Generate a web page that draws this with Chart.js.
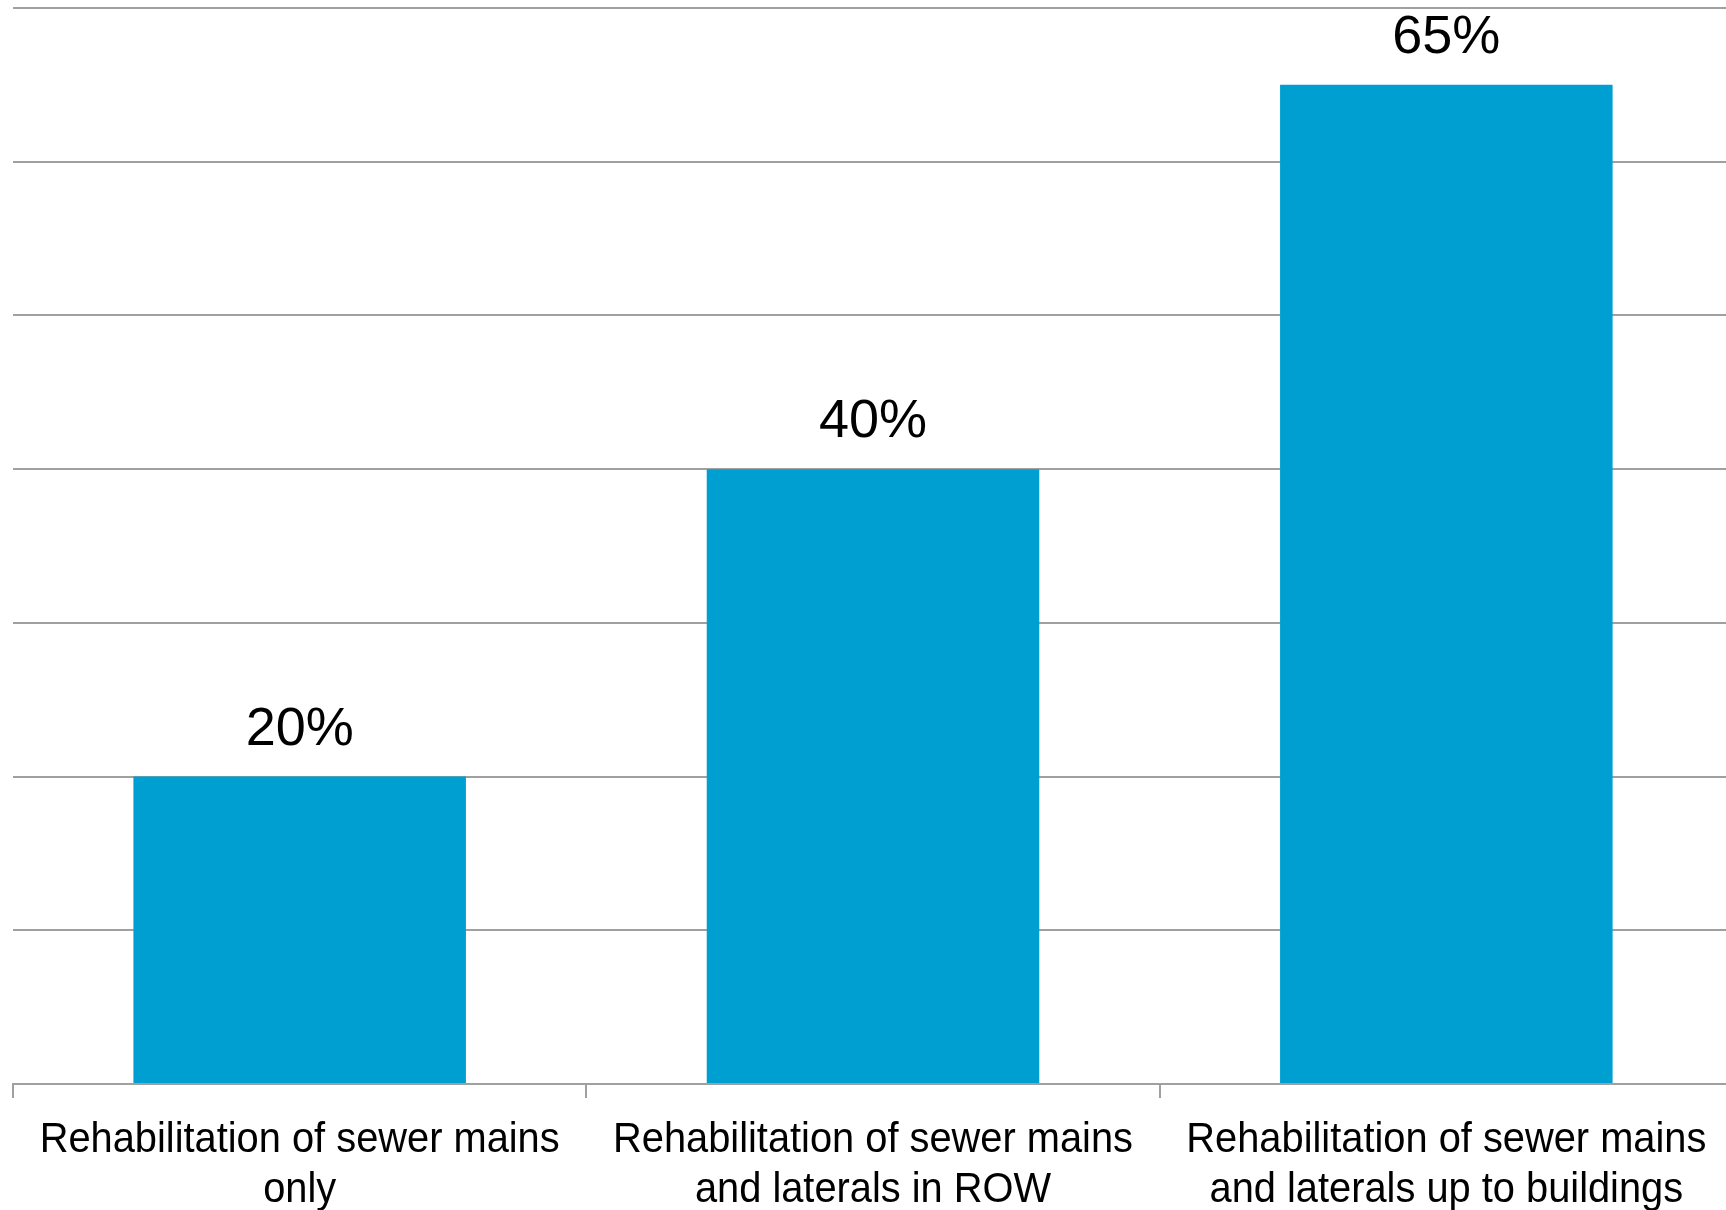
<!DOCTYPE html>
<html>
<head>
<meta charset="utf-8">
<script src="https://cdn.jsdelivr.net/npm/chart.js@4.4.1/dist/chart.umd.min.js"></script>
<style>
  html, body { margin: 0; padding: 0; background: #fff; overflow: hidden; }
  #wrap { position: relative; width: 1746px; height: 1210px; }
</style>
</head>
<body>
<div id="wrap"><canvas id="myChart"></canvas></div>
<script>
// data
const categories = [
    ['Rehabilitation of sewer mains', 'only'],
    ['Rehabilitation of sewer mains', 'and laterals in ROW'],
    ['Rehabilitation of sewer mains', 'and laterals up to buildings']
];
const shares = [20, 40, 65];
const yMax = 70;
const yStep = 10;

// labels drawn above each bar
const valueLabels = {
    id: 'valueLabels',
    afterDatasetsDraw(chart) {
        const ctx = chart.ctx;
        const meta = chart.getDatasetMeta(0);
        ctx.save();
        ctx.font = '54px "Liberation Sans", Arial, sans-serif';
        ctx.fillStyle = '#000';
        ctx.textAlign = 'center';
        ctx.textBaseline = 'alphabetic';
        meta.data.forEach((bar, i) => {
            ctx.fillText(shares[i] + '%', bar.x, bar.y - 32);
        });
        ctx.restore();
    }
};

// category labels in a narrow face (no condensed font installed, so squeeze)
const narrowLabels = {
    id: 'narrowLabels',
    afterDraw(chart) {
        const ctx = chart.ctx;
        const xs = chart.scales.x;
        ctx.save();
        ctx.font = '42px "Liberation Sans", Arial, sans-serif';
        ctx.fillStyle = '#000';
        ctx.textAlign = 'center';
        ctx.textBaseline = 'alphabetic';
        const squeeze = 520 / ctx.measureText(categories[0][0]).width;
        categories.forEach((lines, i) => {
            const cx = xs.getPixelForValue(i);
            lines.forEach((line, j) => {
                ctx.save();
                ctx.translate(cx, xs.top + 68 + j * 50);
                ctx.scale(squeeze, 1);
                ctx.fillText(line, 0, 0);
                ctx.restore();
            });
        });
        ctx.restore();
    }
};

document.addEventListener("DOMContentLoaded", () => {
    const ctx = document.getElementById('myChart');
    new Chart(ctx, {
        type: 'bar',
        data: {
            labels: categories,
            datasets: [{
                data: shares,
                backgroundColor: '#009fd1',
                borderWidth: 0,
                barPercentage: 1,
                categoryPercentage: 0.58
            }]
        },
        options: {
            responsive: true,
            maintainAspectRatio: false,
            animation: false,
            layout: { padding: { top: 8, left: 13, right: 13, bottom: 0 } },
            plugins: {
                legend: { display: false },
                tooltip: { enabled: false }
            },
            scales: {
                x: {
                    grid: {
                        display: true,
                        offset: true,
                        drawOnChartArea: false,
                        drawTicks: true,
                        tickLength: 14,
                        color: '#a0a0a0',
                        lineWidth: 2
                    },
                    border: { display: true, color: '#a0a0a0', width: 2 },
                    ticks: { display: false },
                    afterFit(scale) { scale.height = 126; }
                },
                y: {
                    display: true,
                    min: 0,
                    max: yMax,
                    ticks: { display: false, stepSize: yStep },
                    grid: { color: '#a0a0a0', lineWidth: 2, drawTicks: false },
                    border: { display: false }
                }
            }
        },
        plugins: [valueLabels, narrowLabels]
    });
});
</script>
</body>
</html>
